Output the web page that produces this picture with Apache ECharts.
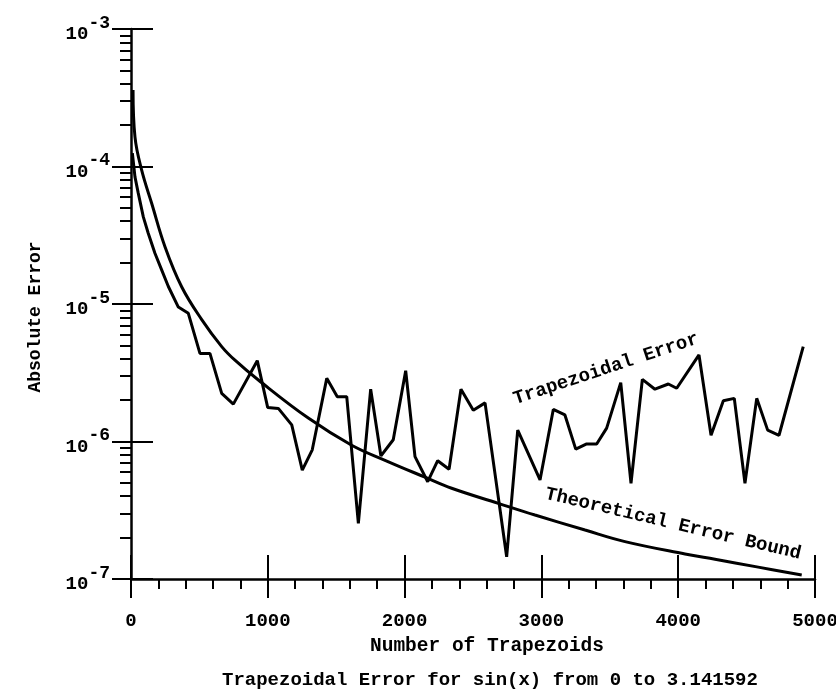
<!DOCTYPE html>
<html>
<head>
<meta charset="utf-8">
<title>Trapezoidal Error</title>
<script src="https://cdn.jsdelivr.net/npm/echarts@6/dist/echarts.min.js"></script>
<style>
  html, body { margin: 0; padding: 0; background: #fff; }
  #chart { width: 836px; height: 694px; }
</style>
</head>
<body>
<div id="chart"></div>
<script>
// values
const trapN = [10, 29, 53, 90, 126, 175, 224, 273, 346, 419, 504, 577, 663, 748, 923, 999, 1077, 1175,
  1252, 1325, 1431, 1508, 1577, 1662, 1752, 1827, 1917, 2008, 2076, 2169, 2242, 2325, 2412, 2502, 2588,
  2746, 2827, 2990, 3087, 3172, 3251, 3331, 3404, 3477, 3580, 3655, 3738, 3830, 3928, 3989, 4152, 4240,
  4330, 4410, 4488, 4574, 4654, 4737, 4914]
const trapErr = [1.25e-4, 8.4e-5, 6.4e-5, 4.3e-5, 3.27e-5, 2.34e-5, 1.77e-5, 1.34e-5, 9.5e-6, 8.55e-6,
  4.37e-6, 4.37e-6, 2.24e-6, 1.87e-6, 3.87e-6, 1.77e-6, 1.74e-6, 1.32e-6, 6.2e-7, 8.7e-7, 2.88e-6,
  2.12e-6, 2.12e-6, 2.54e-7, 2.4e-6, 7.85e-7, 1.03e-6, 3.27e-6, 7.76e-7, 5.1e-7, 7.25e-7, 6.28e-7,
  2.4e-6, 1.69e-6, 1.91e-6, 1.45e-7, 1.21e-6, 5.25e-7, 1.71e-6, 1.56e-6, 8.8e-7, 9.6e-7, 9.6e-7,
  1.25e-6, 2.68e-6, 4.97e-7, 2.83e-6, 2.4e-6, 2.62e-6, 2.44e-6, 4.26e-6, 1.11e-6, 1.98e-6, 2.06e-6,
  4.97e-7, 2.06e-6, 1.21e-6, 1.11e-6, 4.89e-6]

const boundN = [15, 29, 78, 151, 249, 371, 517, 663, 760, 931, 1296, 1613, 1857, 2149, 2344, 2685,
  2953, 3319, 3611, 4050, 4269, 4585, 4903]
const boundErr = [3.6e-4, 1.64e-4, 9.4e-5, 5.4e-5, 2.6e-5, 1.33e-5, 7.7e-6, 4.9e-6, 3.9e-6, 2.8e-6,
  1.48e-6, 9.4e-7, 7.3e-7, 5.5e-7, 4.57e-7, 3.55e-7, 2.92e-7, 2.27e-7, 1.87e-7, 1.52e-7, 1.39e-7,
  1.22e-7, 1.07e-7]

const xTicks = [0, 1000, 2000, 3000, 4000, 5000]
const yDecades = [-7, -6, -5, -4, -3]

const FONT = "'Liberation Mono', 'DejaVu Sans Mono', monospace"
const INK = '#000'

// log minor tick positions (2..9 in every decade), on a helper linear axis
let minorLog = []
for (let e = yDecades[0]; e < yDecades[yDecades.length - 1]; e++) {
  for (let k = 2; k <= 9; k++) minorLog.push(Math.log10(k) + e)
}

const pairs = (xs, ys) => xs.map((x, i) => [x, ys[i]])

let chart = echarts.init(document.getElementById('chart'))

let option = {
  animation: false,
  backgroundColor: '#fff',
  title: {
    text: 'Trapezoidal Error for sin(x) from 0 to 3.141592',
    left: 222,
    top: 671,
    padding: 0,
    textStyle: { fontFamily: FONT, fontSize: 19, fontWeight: 'bold', color: INK }
  },
  grid: {
    left: 131,
    right: 21,
    top: 29,
    bottom: 115,
    containLabel: false,
    outerBoundsMode: 'none'
  },
  xAxis: [
    {
      type: 'value',
      min: xTicks[0],
      max: xTicks[xTicks.length - 1],
      interval: 1000,
      position: 'bottom',
      name: 'Number of Trapezoids',
      nameLocation: 'middle',
      nameGap: 54,
      nameTextStyle: { fontFamily: FONT, fontSize: 19.5, fontWeight: 'bold', color: INK, padding: [0, 0, 0, 28] },
      axisLine: { lineStyle: { color: INK, width: 2.5 } },
      axisTick: { length: 19, lineStyle: { color: INK, width: 2 } },
      minorTick: { show: true, splitNumber: 5, length: 10, lineStyle: { color: INK, width: 2 } },
      axisLabel: {
        margin: 33,
        formatter: v => String(v),
        fontFamily: FONT, fontSize: 19, fontWeight: 'bold', color: INK
      },
      splitLine: { show: false }
    },
    {
      // major ticks poking up into the plot
      type: 'value',
      min: xTicks[0],
      max: xTicks[xTicks.length - 1],
      interval: 1000,
      position: 'bottom',
      axisLine: { show: false },
      axisTick: { inside: true, length: 24, lineStyle: { color: INK, width: 2 } },
      axisLabel: { show: false },
      splitLine: { show: false }
    }
  ],
  yAxis: [
    {
      type: 'log',
      logBase: 10,
      min: 1e-7,
      max: 1e-3,
      position: 'left',
      name: 'Absolute Error',
      nameLocation: 'middle',
      nameRotate: 90,
      nameGap: 87,
      nameTextStyle: { fontFamily: FONT, fontSize: 18, fontWeight: 'bold', color: INK, padding: [0, 26, 0, 0] },
      axisLine: { lineStyle: { color: INK, width: 2.5 } },
      axisTick: { length: 19, lineStyle: { color: INK, width: 2 } },
      axisLabel: {
        margin: 21,
        formatter: function (v) {
          return '{b|10}{s|-' + Math.round(-Math.log10(v)) + '}'
        },
        rich: {
          b: { fontFamily: FONT, fontSize: 19, fontWeight: 'bold', color: INK, padding: [11, 0, 0, 0] },
          s: { fontFamily: FONT, fontSize: 18, fontWeight: 'bold', color: INK, verticalAlign: 'top' }
        }
      },
      splitLine: { show: false }
    },
    {
      type: 'log',
      logBase: 10,
      min: 1e-7,
      max: 1e-3,
      position: 'left',
      axisLine: { show: false },
      axisTick: { inside: true, length: 22, lineStyle: { color: INK, width: 2 } },
      axisLabel: { show: false },
      splitLine: { show: false }
    },
    {
      // minor ticks of the log scale
      type: 'value',
      min: yDecades[0],
      max: yDecades[yDecades.length - 1],
      position: 'left',
      axisLine: { show: false },
      axisTick: { length: 11, customValues: minorLog, lineStyle: { color: INK, width: 2 } },
      axisLabel: { show: false },
      splitLine: { show: false }
    }
  ],
  series: [
    {
      name: 'Trapezoidal Error',
      type: 'line',
      xAxisIndex: 0,
      yAxisIndex: 0,
      data: pairs(trapN, trapErr),
      symbol: 'none',
      lineStyle: { color: INK, width: 3 }
    },
    {
      name: 'Theoretical Error Bound',
      type: 'line',
      xAxisIndex: 0,
      yAxisIndex: 0,
      data: pairs(boundN, boundErr),
      smooth: 0.4,
      symbol: 'none',
      lineStyle: { color: INK, width: 3 }
    }
  ],
  graphic: [
    {
      type: 'text',
      x: 606,
      y: 369,
      rotation: 18.4 * Math.PI / 180,
      style: {
        text: 'Trapezoidal Error',
        font: 'bold 19px ' + FONT,
        fill: INK,
        align: 'center',
        verticalAlign: 'middle'
      }
    },
    {
      type: 'text',
      x: 673,
      y: 524,
      rotation: -13.3 * Math.PI / 180,
      style: {
        text: 'Theoretical Error Bound',
        font: 'bold 19px ' + FONT,
        fill: INK,
        align: 'center',
        verticalAlign: 'middle'
      }
    }
  ]
}

chart.setOption(option)
</script>
</body>
</html>
